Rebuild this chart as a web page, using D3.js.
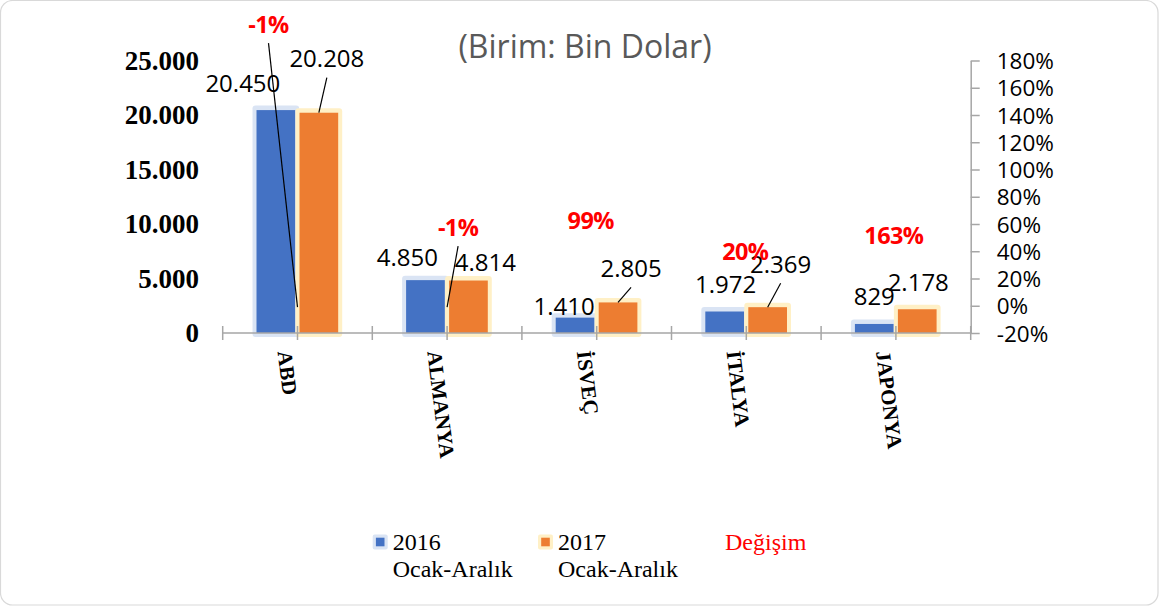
<!DOCTYPE html>
<html><head><meta charset="utf-8">
<script src="https://cdn.jsdelivr.net/npm/d3@7"></script>
<style>
html,body{margin:0;padding:0;background:#fff;}
svg{display:block;}
</style></head>
<body>
<svg id="chart" width="1159" height="606"></svg>
<script>
// ---- data ----
const categories = ["ABD", "ALMANYA", "İSVEÇ", "İTALYA", "JAPONYA"];
const values2016 = [20450, 4850, 1410, 1972, 829];
const values2017 = [20208, 4814, 2805, 2369, 2178];
const changes = [-0.01, -0.01, 0.99, 0.20, 1.63];
const leftTicks = [0, 5000, 10000, 15000, 20000, 25000];
const rightTicks = [-0.2, 0, 0.2, 0.4, 0.6, 0.8, 1.0, 1.2, 1.4, 1.6, 1.8];
const seriesNames = ["2016", "2017"];
const legendLabels = [["2016", "Ocak-Aralık"], ["2017", "Ocak-Aralık"], ["Değişim"]];
const titleText = "(Birim: Bin Dolar)";

// ---- label placement (manually dragged labels in the original, px offsets from anchor) ----
const off2016 = [[-33, -27], [-18, -23], [-11, -11], [1, -27], [0, -28]];
const off2017 = [[8, -54], [17, -18], [13, -34], [13, -43], [1, -27]];
const offChange = [[-29, -283], [11, -80], [-6, 50], [-1, -27], [-2, 152]];
const leader2017 = [true, false, true, true, false];
const leaderChange = [true, true, false, false, false];

// ---- layout ----
const plot = {left: 222.7, right: 970.7, top: 60.5, bottom: 333};
const C = {blue: "#4472c4", orange: "#ed7d31", blueGlow: "#dae4f4", orangeGlow: "#fff0c6",
  axis: "#a6a6a6", red: "#ff0000", title: "#595959"};

const svg = d3.select("#chart");

// chart border
svg.append("rect").attr("x", 0.5).attr("y", 0.5).attr("width", 1157.5).attr("height", 604.5)
  .attr("rx", 12).attr("fill", "#fff").attr("stroke", "#d9d9d9").attr("stroke-width", 1.2);

const x = d3.scaleBand().domain(categories).range([plot.left, plot.right]).padding(0);
const bw = x.bandwidth();
const x1 = d3.scaleBand().domain(seriesNames).range([bw * 0.226, bw * 0.772]).paddingInner(0.1);
const yL = d3.scaleLinear().domain([0, 25000]).range([plot.bottom, plot.top]);
const yR = d3.scaleLinear().domain([-0.2, 1.8]).range([plot.bottom, plot.top]);

// title
svg.append("text").attr("x", 585).attr("y", 47).attr("dy", "0.35em")
  .attr("text-anchor", "middle").attr("font-family", "'Open Sans', sans-serif")
  .attr("font-size", 32).attr("fill", C.title).text(titleText);

// left axis
const fmtThousands = d => d3.format(",")(d).replace(/,/g, ".");
const gL = svg.append("g").attr("transform", `translate(${plot.left},0)`)
  .call(d3.axisLeft(yL).tickValues(leftTicks).tickSize(0).tickPadding(23.7).tickFormat(fmtThousands));
gL.select(".domain").remove();
gL.selectAll("text").attr("font-family", "'Liberation Serif', serif").attr("font-weight", "bold")
  .attr("font-size", 27).attr("fill", "#000").attr("dy", "0.33em");

// right axis
const gR = svg.append("g").attr("transform", `translate(${plot.right},0)`)
  .call(d3.axisRight(yR).tickValues(rightTicks).tickSize(9).tickSizeOuter(0).tickPadding(17)
    .tickFormat(d => Math.round(d * 100) + "%"));
gR.select(".domain").attr("stroke", C.axis).attr("stroke-width", 1.5);
gR.selectAll(".tick line").attr("stroke", C.axis).attr("stroke-width", 1.5);
gR.selectAll("text").attr("font-family", "'Open Sans', sans-serif").attr("font-size", 22.5)
  .attr("fill", "#000").attr("dy", "0.36em");

// bars
const groups = svg.append("g").selectAll("g").data(categories).join("g")
  .attr("transform", d => `translate(${x(d)},0)`);
const seriesData = [values2016, values2017];
const glowCols = [C.blueGlow, C.orangeGlow];
const barCols = [C.blue, C.orange];
seriesNames.forEach((s, si) => {
  const g = groups.append("g");
  g.append("rect")
    .attr("x", x1(s) - 4).attr("width", x1.bandwidth() + 8)
    .attr("y", (d, i) => yL(seriesData[si][i]) - 4.5)
    .attr("height", (d, i) => yL(0) - yL(seriesData[si][i]) + 8.5)
    .attr("rx", 3).attr("fill", glowCols[si]);
  g.append("rect")
    .attr("x", x1(s)).attr("width", x1.bandwidth())
    .attr("y", (d, i) => yL(seriesData[si][i]))
    .attr("height", (d, i) => yL(0) - yL(seriesData[si][i]))
    .attr("fill", barCols[si]);
});

// x axis line + ticks
const gX = svg.append("g");
gX.append("line").attr("x1", plot.left).attr("x2", plot.right).attr("y1", plot.bottom).attr("y2", plot.bottom)
  .attr("stroke", C.axis).attr("stroke-width", 1.5);
const tickXs = [];
categories.forEach(c => { tickXs.push(x(c)); tickXs.push(x(c) + bw / 2); });
tickXs.push(plot.right);
gX.selectAll(".xt").data(tickXs).join("line").attr("class", "xt")
  .attr("x1", d => d).attr("x2", d => d).attr("y1", plot.bottom - 7).attr("y2", plot.bottom + 7)
  .attr("stroke", C.axis).attr("stroke-width", 1.5);

// category labels (rotated)
svg.append("g").selectAll("text").data(categories).join("text")
  .attr("transform", d => `translate(${x(d) + bw / 2 - 13},351) rotate(83)`)
  .attr("dy", "0.33em").attr("text-anchor", "start")
  .attr("font-family", "'Liberation Serif', serif").attr("font-weight", "bold").attr("font-size", 21)
  .attr("fill", "#000").text(d => d);

// value labels
const lblG = svg.append("g").attr("font-family", "'Open Sans', sans-serif").attr("font-size", 24).attr("fill", "#000");
const cx = (c, s) => x(c) + x1(s) + x1.bandwidth() / 2;
const addLabel = (px, py, off, txt, leader, attrs) => {
  const lx = px + off[0], ly = py + off[1];
  if (leader) {
    svg.append("line").attr("x1", lx).attr("y1", ly + 19).attr("x2", px).attr("y2", py)
      .attr("stroke", "#000").attr("stroke-width", 1.2);
  }
  const t = lblG.append("text").attr("x", lx).attr("y", ly).attr("dy", "0.36em")
    .attr("text-anchor", "middle").text(txt);
  if (attrs) Object.entries(attrs).forEach(([k, v]) => t.attr(k, v));
};
categories.forEach((c, i) => {
  addLabel(cx(c, "2016"), yL(values2016[i]), off2016[i], fmtThousands(values2016[i]), false);
  addLabel(cx(c, "2017"), yL(values2017[i]), off2017[i], fmtThousands(values2017[i]), leader2017[i]);
});
categories.forEach((c, i) => {
  addLabel(x(c) + bw / 2, yR(changes[i]), offChange[i], Math.round(changes[i] * 100) + "%", leaderChange[i],
    {"font-weight": "bold", "font-size": 23.5, "fill": C.red, "letter-spacing": "-0.6px"});
});

// legend
const leg = svg.append("g").attr("font-family", "'Liberation Serif', serif").attr("font-size", 24);
const legX = [372.7, 538, 725];
[0, 1].forEach(i => {
  leg.append("rect").attr("x", legX[i]).attr("y", 534.5).attr("width", 15).attr("height", 15)
    .attr("rx", 2).attr("fill", glowCols[i]);
  leg.append("rect").attr("x", legX[i] + 3.2).attr("y", 537.7).attr("width", 8.6).attr("height", 8.6)
    .attr("fill", barCols[i]);
  leg.append("text").attr("x", legX[i] + 20).attr("y", 550).attr("fill", "#000").text(legendLabels[i][0]);
  leg.append("text").attr("x", legX[i] + 20).attr("y", 577).attr("fill", "#000").text(legendLabels[i][1]);
});
leg.append("text").attr("x", legX[2]).attr("y", 550).attr("fill", C.red).text(legendLabels[2][0]);
</script>
</body></html>
